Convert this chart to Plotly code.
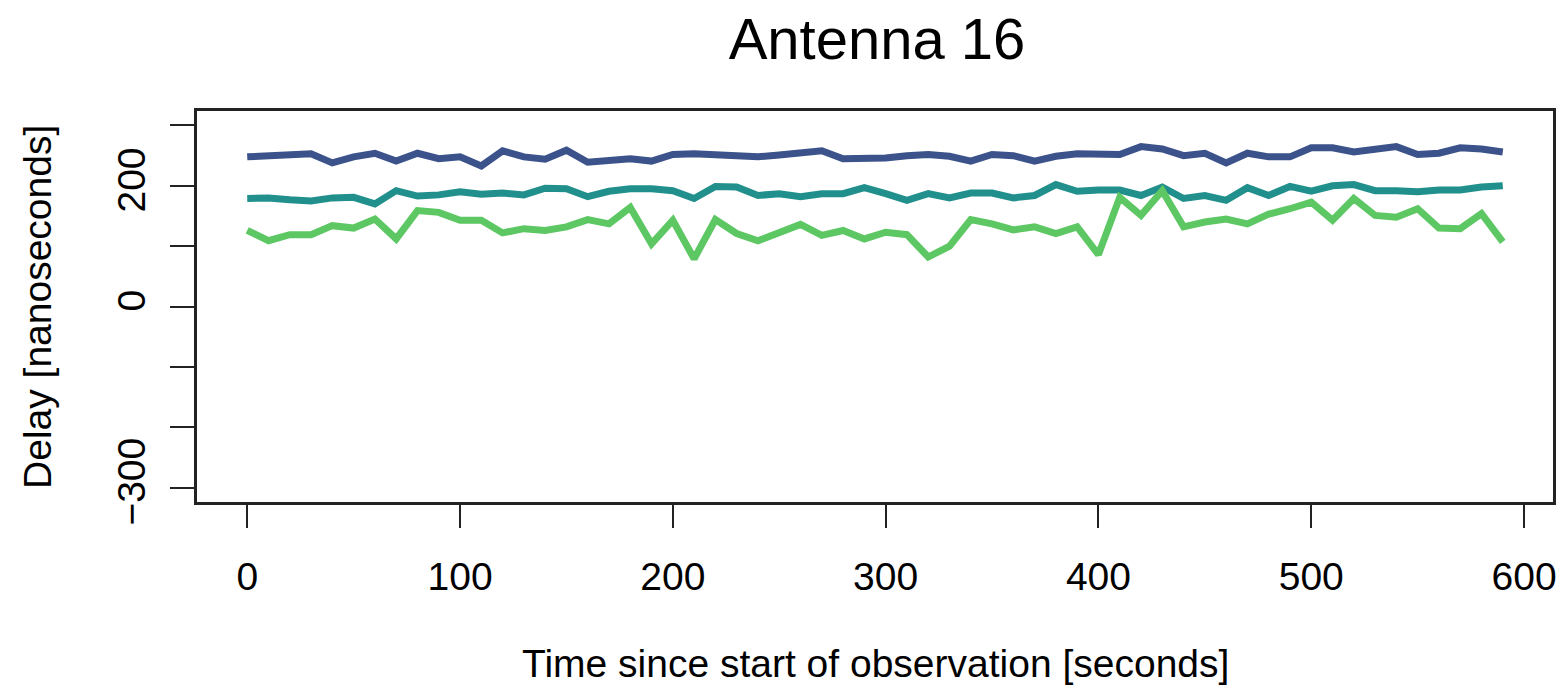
import plotly.graph_objects as go

time_s = [0, 10, 20, 30, 40, 50, 60, 70, 80, 90,
          100, 110, 120, 130, 140, 150, 160, 170, 180, 190,
          200, 210, 220, 230, 240, 250, 260, 270, 280, 290,
          300, 310, 320, 330, 340, 350, 360, 370, 380, 390,
          400, 410, 420, 430, 440, 450, 460, 470, 480, 490,
          500, 510, 520, 530, 540, 550, 560, 570, 580, 590]

delay_blue = [248, 249, 250, 253, 238, 248, 254, 241, 254, 245,
              248, 233, 258, 248, 244, 259, 239, 243, 245, 241,
              252, 253, 252, 249, 248, 251, 254, 258, 245, 245,
              246, 250, 252, 249, 241, 252, 250, 241, 249, 253,
              252, 252, 265, 261, 250, 254, 238, 254, 248, 248,
              263, 263, 256, 261, 265, 252, 254, 263, 261, 256]

delay_teal = [179, 180, 177, 175, 180, 181, 170, 192, 183, 185,
              190, 186, 188, 185, 196, 195, 182, 191, 195, 195,
              192, 179, 199, 198, 184, 187, 182, 187, 187, 197,
              187, 176, 187, 180, 188, 188, 180, 184, 202, 191,
              193, 193, 184, 198, 179, 184, 176, 197, 184, 199,
              191, 200, 202, 192, 192, 190, 193, 193, 198, 200]

delay_green = [126, 109, 119, 119, 134, 130, 145, 112, 159, 156,
               143, 143, 122, 129, 126, 132, 144, 137, 164, 104,
               143, 79, 144, 121, 109, 124, 136, 118, 126, 112,
               123, 119, 82, 100, 144, 137, 127, 132, 121, 132,
               86, 181, 151, 192, 132, 140, 145, 137, 153, 162,
               173, 143, 179, 151, 148, 162, 130, 129, 154, 107]

x_ticks = [0, 100, 200, 300, 400, 500, 600]
y_ticks = [-300, -200, -100, 0, 100, 200, 300]
y_ticktext = ["\u2212300", "", "", "0", "", "200", ""]

colors = ["#3B528B", "#21908C", "#5DC863"]

W, H = 1565, 688
ML, MR, MT, MB = 197, 8, 111, 186
FONT = "Liberation Sans, Arial, Helvetica, sans-serif"

fig = go.Figure()
for ys, c in zip([delay_blue, delay_teal, delay_green], colors):
    fig.add_trace(go.Scatter(x=time_s, y=ys, mode="lines",
                             line=dict(color=c, width=7),
                             showlegend=False, hoverinfo="skip"))

pw = W - ML - MR
ph = H - MT - MB

fig.update_layout(
    width=W, height=H,
    margin=dict(l=ML, r=MR, t=MT, b=MB, pad=0),
    paper_bgcolor="white", plot_bgcolor="white",
    font=dict(family=FONT, size=39, color="black"),
    title=dict(text="Antenna 16", x=(ML + pw / 2) / W, xanchor="center",
               xref="container",
               y=1 - 39 / H, yanchor="middle", yref="container",
               font=dict(family=FONT, size=58, color="black")),
    xaxis=dict(range=[-23.6, 613.6], tickvals=x_ticks,
               ticktext=[str(v) for v in x_ticks],
               showgrid=False, zeroline=False,
               showline=True, mirror=True, linecolor="#222", linewidth=2.5,
               ticks="outside", ticklen=23, tickwidth=2, tickcolor="#222",
               ticklabelstandoff=15,
               tickfont=dict(family=FONT, size=39, color="black")),
    yaxis=dict(range=[-324, 324], tickvals=y_ticks, ticktext=y_ticktext,
               tickangle=-90,
               showgrid=False, zeroline=False,
               showline=True, mirror=True, linecolor="#222", linewidth=2.5,
               ticks="outside", ticklen=24, tickwidth=2, tickcolor="#222",
               ticklabelstandoff=10,
               tickfont=dict(family=FONT, size=39, color="black")),
    annotations=[
        dict(text="Time since start of observation [seconds]",
             xref="paper", yref="paper", x=0.5, y=-(663 - (MT + ph)) / ph,
             xanchor="center", yanchor="middle", showarrow=False,
             font=dict(family=FONT, size=39, color="black")),
        dict(text="Delay [nanoseconds]", textangle=-90,
             xref="paper", yref="paper", x=-(ML - 37) / pw, y=0.5,
             xanchor="center", yanchor="middle", showarrow=False,
             font=dict(family=FONT, size=39, color="black")),
    ],
)

fig.write_html(
    "out.html",
    config={"displayModeBar": False},
    post_script="document.body.style.margin='0';document.body.style.overflow='hidden';",
)
